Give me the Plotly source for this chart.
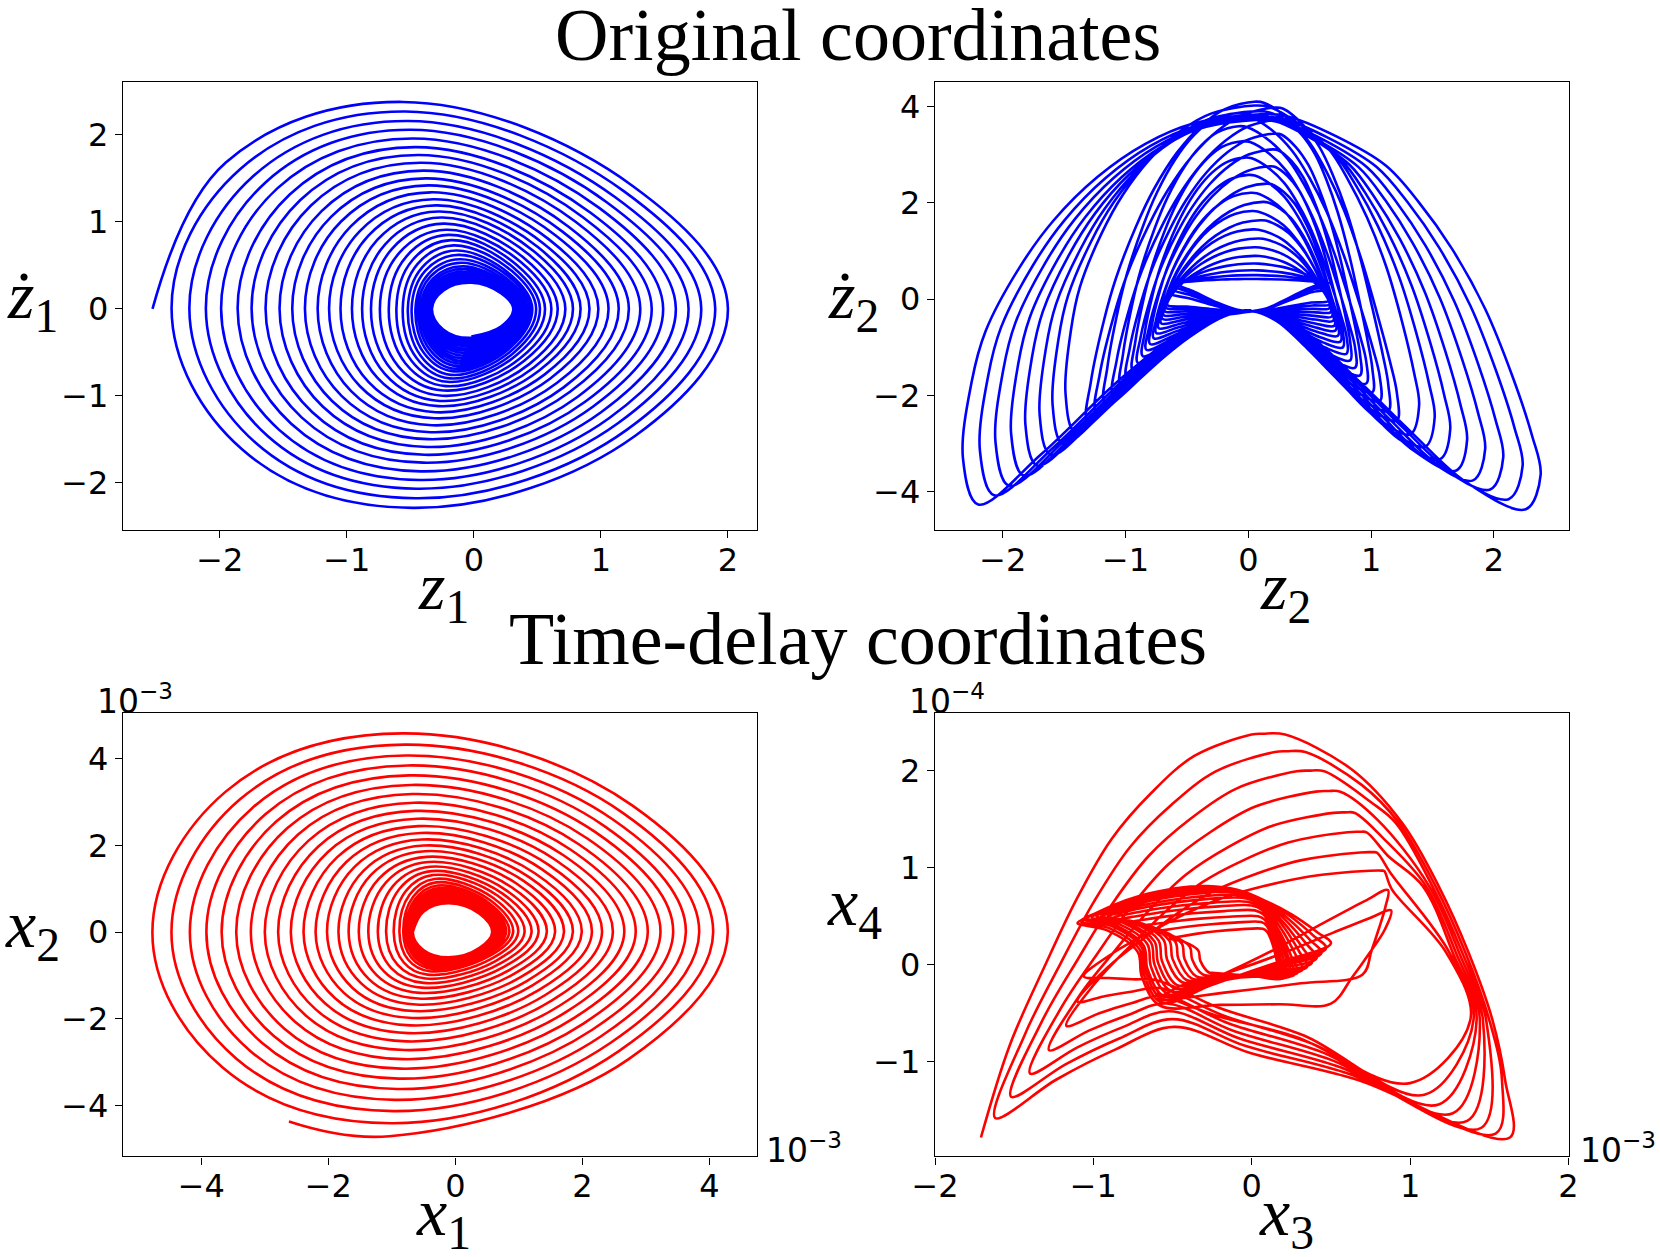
import plotly.graph_objects as go

W, H = 1660, 1257

# ---------------- Top-left: z1 vs dz1 (spiral, clockwise, starts at left) -----------
tl_left = [-2.53, -2.38, -2.24, -2.11, -1.99, -1.86, -1.75, -1.64, -1.53, -1.43, -1.33, -1.23,
           -1.14, -1.05, -0.96, -0.88, -0.81, -0.74, -0.67, -0.61, -0.56, -0.52, -0.49, -0.46,
           -0.44, -0.42, -0.405, -0.39, -0.38, -0.37, -0.362, -0.355, -0.35, -0.345, -0.34,
           -0.336, -0.333, -0.33]
tl_top = [2.38, 2.27, 2.16, 2.06, 1.96, 1.86, 1.77, 1.68, 1.59, 1.50, 1.42, 1.34, 1.26, 1.19,
          1.12, 1.05, 0.98, 0.91, 0.85, 0.79, 0.73, 0.67, 0.62, 0.57, 0.53, 0.49, 0.46, 0.43,
          0.41, 0.39, 0.375, 0.36, 0.35, 0.34, 0.33, 0.32, 0.31, 0.30]
tl_top_x = [-0.56, -0.54, -0.52, -0.50, -0.48, -0.46, -0.44, -0.42, -0.40, -0.38, -0.36, -0.34,
            -0.32, -0.30, -0.28, -0.26, -0.24, -0.22, -0.20, -0.18, -0.16, -0.14, -0.12, -0.11,
            -0.10, -0.09, -0.08, -0.07, -0.06, -0.05, -0.05, -0.04, -0.04, -0.03, -0.03, -0.02,
            -0.02, -0.02]
tl_right = [2.00, 1.90, 1.79, 1.69, 1.59, 1.49, 1.40, 1.31, 1.22, 1.14, 1.06, 0.98, 0.91, 0.84,
            0.78, 0.72, 0.66, 0.61, 0.56, 0.52, 0.49, 0.46, 0.44, 0.42, 0.40, 0.385, 0.37, 0.36,
            0.35, 0.343, 0.336, 0.33, 0.326, 0.322, 0.318, 0.315, 0.312, 0.31]
tl_bottom = [-2.29, -2.18, -2.07, -1.97, -1.87, -1.77, -1.68, -1.59, -1.50, -1.42, -1.34, -1.26,
             -1.19, -1.12, -1.06, -1.00, -0.94, -0.89, -0.84, -0.80, -0.76, -0.72, -0.69, -0.66,
             -0.63, -0.60, -0.57, -0.54, -0.51, -0.48, -0.46, -0.43, -0.41, -0.39, -0.37, -0.35,
             -0.335, -0.32]
tl_bottom_x = [-0.48, -0.46, -0.45, -0.43, -0.42, -0.40, -0.39, -0.37, -0.36, -0.34, -0.33, -0.31,
               -0.30, -0.28, -0.27, -0.25, -0.24, -0.22, -0.21, -0.19, -0.18, -0.16, -0.15, -0.13,
               -0.12, -0.11, -0.10, -0.09, -0.08, -0.07, -0.06, -0.05, -0.05, -0.04, -0.04, -0.03,
               -0.03, -0.02]
tl_bulge = [1.0, 0.84, 0.90, 1.0]   # UL, UR, LR, LL quadrant fullness read from outer turn

# ---------------- Bottom-left: x1 vs x2 (x1e-3), counter-clockwise, starts at bottom ------
bl_start = (-2.62, -4.37)
bl_bottom = [-4.71, -4.41, -4.13, -3.87, -3.62, -3.38, -3.15, -2.93, -2.72, -2.52, -2.33, -2.15,
             -1.98, -1.82, -1.67, -1.53, -1.40, -1.28, -1.17, -1.07, -0.98, -0.90, -0.84, -0.79,
             -0.75, -0.72, -0.69, -0.67, -0.65, -0.635, -0.62, -0.61, -0.60, -0.59, -0.585, -0.58]
bl_bottom_x = [-1.04, -1.01, -0.98, -0.95, -0.92, -0.89, -0.86, -0.83, -0.80, -0.77, -0.74, -0.71,
               -0.68, -0.65, -0.62, -0.59, -0.56, -0.53, -0.50, -0.47, -0.44, -0.41, -0.38, -0.35,
               -0.32, -0.29, -0.26, -0.24, -0.22, -0.20, -0.18, -0.16, -0.14, -0.12, -0.11, -0.10]
bl_right = [4.29, 4.06, 3.84, 3.63, 3.43, 3.23, 3.03, 2.84, 2.66, 2.48, 2.31, 2.15, 1.99, 1.85,
            1.71, 1.57, 1.44, 1.31, 1.20, 1.09, 0.99, 0.91, 0.85, 0.80, 0.76, 0.72, 0.69, 0.67,
            0.65, 0.63, 0.615, 0.605, 0.595, 0.59, 0.585, 0.58]
bl_top = [4.59, 4.33, 4.08, 3.85, 3.62, 3.40, 3.19, 2.99, 2.80, 2.62, 2.45, 2.29, 2.14, 2.00,
          1.87, 1.74, 1.62, 1.51, 1.41, 1.32, 1.23, 1.15, 1.08, 1.02, 0.97, 0.92, 0.88, 0.84,
          0.81, 0.78, 0.75, 0.73, 0.71, 0.69, 0.68, 0.67]
bl_top_x = [-0.83, -0.80, -0.78, -0.75, -0.73, -0.70, -0.68, -0.65, -0.63, -0.60, -0.58, -0.55,
            -0.53, -0.50, -0.48, -0.45, -0.43, -0.40, -0.38, -0.35, -0.33, -0.30, -0.28, -0.26,
            -0.24, -0.22, -0.20, -0.18, -0.16, -0.15, -0.14, -0.13, -0.12, -0.11, -0.10, -0.10]
bl_left = [-4.77, -4.47, -4.18, -3.92, -3.68, -3.45, -3.22, -3.00, -2.79, -2.59, -2.39, -2.20,
           -2.02, -1.84, -1.68, -1.52, -1.37, -1.22, -1.09, -0.97, -0.88, -0.82, -0.78, -0.75,
           -0.73, -0.715, -0.705, -0.695, -0.69, -0.685, -0.68, -0.677, -0.674, -0.672, -0.67,
           -0.67]
bl_bulge = [1.0, 0.90, 0.88, 1.0]   # UL, UR, LR, LL

# ---------------- Top-right: z2 vs dz2, one row per loop --------------------------------
# 8 outer loops, 20 central arches, 4 small loops forming the triangle near the origin
tr_shape = [0] * 8 + [1] * 24
tr_lt_x = [-2.20, -2.07, -1.95, -1.83, -1.72, -1.61, -1.51, -1.41,
           -1.31, -1.24, -1.17, -1.10, -1.04, -0.99, -0.94, -0.90, -0.86, -0.83,
           -0.80, -0.77, -0.75, -0.73, -0.71, -0.70, -0.69, -0.68, -0.67, -0.66,
           -0.63, -0.62, -0.61, -0.60]
tr_lt_y = [-4.26, -4.07, -3.87, -3.66, -3.45, -3.23, -3.00, -2.76,
           -2.50, -2.31, -2.13, -1.95, -1.78, -1.62, -1.47, -1.32, -1.18, -1.05,
           -0.93, -0.81, -0.70, -0.60, -0.50, -0.41, -0.33, -0.25, -0.18, -0.12,
           0.11, 0.20, 0.27, 0.32]
tr_top_x = [0.10, 0.08, 0.07, 0.06, 0.05, 0.05, 0.05, 0.05,
            0.05, 0.22, -0.10, 0.25, -0.08, 0.22, -0.05, 0.20, -0.03, 0.18,
            0.00, 0.15, 0.02, 0.12, 0.03, 0.10, 0.04, 0.08, 0.05, 0.05,
            0.04, 0.03, 0.03, 0.03]
tr_top_y = [3.84, 3.78, 3.74, 3.72, 3.74, 3.80, 3.90, 4.02,
            4.10, 3.98, 3.86, 3.73, 3.59, 3.44, 3.28, 3.11, 2.94, 2.76,
            2.58, 2.40, 2.21, 2.02, 1.83, 1.64, 1.45, 1.26, 1.08, 0.90,
            0.74, 0.60, 0.50, 0.42]
tr_rt_x = [2.26, 2.12, 1.97, 1.83, 1.69, 1.56, 1.44, 1.32,
           1.21, 1.14, 1.07, 1.01, 0.96, 0.91, 0.87, 0.83, 0.80, 0.77,
           0.75, 0.73, 0.71, 0.70, 0.69, 0.68, 0.67, 0.66, 0.66, 0.65,
           0.65, 0.65, 0.65, 0.65]
tr_rt_y = [-4.36, -4.15, -3.95, -3.76, -3.56, -3.32, -3.06, -2.80,
           -2.52, -2.32, -2.12, -1.93, -1.75, -1.58, -1.42, -1.27, -1.13, -1.00,
           -0.88, -0.76, -0.65, -0.55, -0.45, -0.36, -0.27, -0.19, -0.11, -0.04,
           0.21, 0.27, 0.31, 0.33]
tr_in_x = [0.03] * 32
tr_in_y = [-0.25] * 32
# edge profiles (normalised), read from an outer loop (0) and a central arch (1)
tr_left_prof = [
    [(1.054, 0.118), (1.023, 0.315), (0.974, 0.444), (0.854, 0.607), (0.734, 0.727),
     (0.578, 0.839), (0.408, 0.924), (0.239, 0.976)],
    [(0.980, 0.118), (0.900, 0.315), (0.830, 0.444), (0.710, 0.607), (0.600, 0.727),
     (0.465, 0.839), (0.320, 0.924), (0.180, 0.976)]]
tr_right_prof = [
    [(0.093, 0.996), (0.282, 0.945), (0.472, 0.870), (0.597, 0.777), (0.722, 0.659),
     (0.847, 0.507), (0.949, 0.338), (1.023, 0.188), (1.056, 0.087)],
    [(0.070, 0.996), (0.240, 0.945), (0.390, 0.870), (0.510, 0.777), (0.630, 0.659),
     (0.750, 0.507), (0.860, 0.338), (0.950, 0.188), (1.000, 0.087)]]
# lower edges (bottom point -> tip), read along the lower boundary
tr_lowL_prof = [(0.188, 0.052), (0.457, 0.322), (0.767, 0.736)]
tr_lowR_prof = [(0.197, 0.112), (0.392, 0.355), (0.587, 0.618), (0.780, 0.861)]

# ---------------- Bottom-right: x3 vs x4 (x1e-3, x1e-4), one row per loop -------------
br_shape = [0] * 8 + [2, 2] + [1] * 14
br_lt_x = [-1.71, -1.62, -1.52, -1.40, -1.28, -1.17, -1.10, -1.06, -0.58, -0.45,
           -1.10, -1.08, -1.06, -1.04, -1.01, -0.98, -0.95, -0.91, -0.87, -0.82, -0.76,
           -0.69, -0.61, -0.52]
br_lt_y = [-1.78, -1.58, -1.36, -1.12, -0.88, -0.63, -0.38, -0.12, -0.35, -0.22,
           0.43, 0.45, 0.47, 0.48, 0.49, 0.50, 0.50, 0.50, 0.49, 0.47, 0.44, 0.40, 0.34, 0.27]
br_top_x = [0.07, 0.22, 0.36, 0.48, 0.59, 0.68, 0.76, 0.82, 0.86, 0.88,
            -0.32, -0.28, -0.24, -0.20, -0.16, -0.12, -0.09, -0.06, -0.03, 0.00, 0.02,
            0.04, 0.06, 0.07]
br_top_y = [2.38, 2.20, 2.00, 1.79, 1.57, 1.37, 1.16, 0.97, 0.77, 0.56,
            0.80, 0.81, 0.80, 0.79, 0.77, 0.75, 0.72, 0.69, 0.65, 0.61, 0.56, 0.50, 0.44, 0.37]
br_rt_x = [1.63, 1.54, 1.45, 1.36, 1.27, 1.18, 1.09, 1.00, 0.70, 0.50,
           0.50, 0.47, 0.44, 0.41, 0.38, 0.35, 0.32, 0.29, 0.27, 0.25, 0.23, 0.21, 0.19, 0.18]
br_rt_y = [-1.78, -1.74, -1.68, -1.61, -1.53, -1.44, -1.34, -1.22, -0.10, -0.40,
           0.22, 0.17, 0.12, 0.07, 0.02, -0.02, -0.05, -0.08, -0.10, -0.11, -0.12, -0.13,
           -0.14, -0.14]
br_in_x = [-0.48, -0.49, -0.50, -0.52, -0.54, -0.56, -0.58, -0.60, -0.60, -0.60,
           -0.58, -0.57, -0.56, -0.55, -0.53, -0.51, -0.49, -0.47, -0.44, -0.41, -0.38,
           -0.35, -0.31, -0.27]
br_in_y = [-0.72, -0.64, -0.56, -0.48, -0.40, -0.32, -0.24, -0.16, -0.30, -0.36,
           -0.42, -0.39, -0.36, -0.33, -0.30, -0.27, -0.24, -0.21, -0.18, -0.16, -0.14,
           -0.12, -0.10, -0.08]
# shared descending path on the right that the big arches follow (outermost arch)
br_bundle = [(0.95, 1.46), (1.18, 0.81), (1.37, 0.12), (1.52, -0.57), (1.60, -1.19)]
br_bundle_shift = [0.0, -0.02, -0.04, -0.06, -0.08, -0.10, -0.12, -0.14]
br_left_prof = [
    [(0.898, 0.228), (0.774, 0.424), (0.661, 0.590), (0.537, 0.739), (0.395, 0.854),
     (0.243, 0.945), (0.040, 0.998)],
    [(0.90, 0.19), (0.70, 0.51), (0.50, 0.75), (0.25, 0.94)],
    [(0.75, 0.20), (0.50, 0.45), (0.28, 0.70), (0.10, 0.90)]]
br_right_prof = [
    [(0.09, 0.998), (0.359, 0.912)],
    [(0.25, 0.94), (0.50, 0.75), (0.70, 0.51), (0.90, 0.19)],
    [(0.10, 0.80), (0.35, 0.55), (0.65, 0.28)]]
br_lowL_prof = [[(0.33, 0.25), (0.66, 0.58)],
                [(0.22, 0.35), (0.27, 0.65), (0.64, 0.91)],
                [(0.40, 0.45), (0.75, 0.80)]]
br_lowR_prof = [[(0.227, 0.236), (0.55, 0.482)],
                [(0.30, 0.30), (0.65, 0.65)],
                [(0.35, 0.30), (0.70, 0.65)]]

C45 = 0.7071


def spiral_cw(left, top, top_x, right, bottom, bottom_x, bulge):
    xs, ys = [], []
    n = len(left)
    for k in range(n):
        L, T, Tx, R, B, Bx = left[k], top[k], top_x[k], right[k], bottom[k], bottom_x[k]
        xs += [L, Tx + (L - Tx) * C45, Tx, Tx + (R - Tx) * C45, R, Bx + (R - Bx) * C45, Bx]
        ys += [0, T * C45 * bulge[0], T, T * C45 * bulge[1], 0, B * C45 * bulge[2], B]
        if k + 1 < n:
            xs.append(Bx + (left[k + 1] - Bx) * C45)
            ys.append(B * C45 * bulge[3])
    return xs, ys


def spiral_ccw(start, bottom, bottom_x, right, top, top_x, left, bulge):
    xs, ys = [start[0]], [start[1]]
    n = len(bottom)
    for k in range(n):
        B, Bx, R, T, Tx, L = bottom[k], bottom_x[k], right[k], top[k], top_x[k], left[k]
        xs += [Bx, Bx + (R - Bx) * C45, R, Tx + (R - Tx) * C45, Tx, Tx + (L - Tx) * C45, L]
        ys += [B, B * C45 * bulge[2], 0, T * C45 * bulge[1], T, T * C45 * bulge[0], 0]
        if k + 1 < n:
            xs.append(bottom_x[k + 1] + (L - bottom_x[k + 1]) * C45)
            ys.append(bottom[k + 1] * C45 * bulge[3])
    return xs, ys


def tr_loops():
    xs, ys = [], []
    n = len(tr_lt_x)
    for k in range(n):
        s = tr_shape[k]
        ix, iy = tr_in_x[k], tr_in_y[k]
        LTx, LTy, RTx, RTy = tr_lt_x[k], tr_lt_y[k], tr_rt_x[k], tr_rt_y[k]
        tx, ty = tr_top_x[k], tr_top_y[k]
        xs.append(ix); ys.append(iy)
        for u, v in tr_lowL_prof:
            xs.append(ix + (LTx - ix) * u); ys.append(iy + (LTy - iy) * v)
        xs.append(LTx); ys.append(LTy)
        for a, b in tr_left_prof[s]:
            xs.append(tx + a * (LTx - tx)); ys.append(LTy + b * (ty - LTy))
        xs.append(tx); ys.append(ty)
        for a, b in tr_right_prof[s]:
            xs.append(tx + a * (RTx - tx)); ys.append(RTy + b * (ty - RTy))
        xs.append(RTx); ys.append(RTy)
        nx = tr_in_x[k + 1] if k + 1 < n else ix
        ny = tr_in_y[k + 1] if k + 1 < n else iy
        for u, v in reversed(tr_lowR_prof):
            xs.append(nx + (RTx - nx) * u); ys.append(ny + (RTy - ny) * v)
    xs.append(tr_in_x[-1]); ys.append(tr_in_y[-1])
    return xs, ys


def br_loops():
    xs, ys = [], []
    n = len(br_lt_x)
    for k in range(n):
        s = br_shape[k]
        ix, iy = br_in_x[k], br_in_y[k]
        if k > 0:
            xs.append(ix); ys.append(iy)
            for u, v in br_lowL_prof[s]:
                xs.append(ix + (br_lt_x[k] - ix) * u); ys.append(iy + (br_lt_y[k] - iy) * v)
        xs.append(br_lt_x[k]); ys.append(br_lt_y[k])
        tx, ty = br_top_x[k], br_top_y[k]
        for a, b in br_left_prof[s]:
            xs.append(tx + a * (br_lt_x[k] - tx)); ys.append(br_lt_y[k] + b * (ty - br_lt_y[k]))
        xs.append(tx); ys.append(ty)
        for a, b in br_right_prof[s]:
            xs.append(tx + a * (br_rt_x[k] - tx)); ys.append(br_rt_y[k] + b * (ty - br_rt_y[k]))
        if s == 0:
            for bx, by in br_bundle:
                if br_rt_y[k] + 0.5 < by < ty - 0.35:
                    xs.append(bx + br_bundle_shift[k]); ys.append(by)
        xs.append(br_rt_x[k]); ys.append(br_rt_y[k])
        nx = br_in_x[k + 1] if k + 1 < n else ix
        ny = br_in_y[k + 1] if k + 1 < n else iy
        for u, v in reversed(br_lowR_prof[s]):
            xs.append(nx + (br_rt_x[k] - nx) * u); ys.append(ny + (br_rt_y[k] - ny) * v)
    xs.append(br_in_x[-1]); ys.append(br_in_y[-1])
    return xs, ys


BLUE = "#0000ff"
RED = "#ff0000"
LW = 2.6

fig = go.Figure()

x, y = spiral_cw(tl_left, tl_top, tl_top_x, tl_right, tl_bottom, tl_bottom_x, tl_bulge)
fig.add_trace(go.Scatter(x=x, y=y, mode="lines", xaxis="x", yaxis="y",
                         line=dict(color=BLUE, width=LW, shape="spline", smoothing=1.1)))
x, y = tr_loops()
fig.add_trace(go.Scatter(x=x, y=y, mode="lines", xaxis="x2", yaxis="y2",
                         line=dict(color=BLUE, width=LW, shape="spline", smoothing=1.0)))
x, y = spiral_ccw(bl_start, bl_bottom, bl_bottom_x, bl_right, bl_top, bl_top_x, bl_left, bl_bulge)
fig.add_trace(go.Scatter(x=x, y=y, mode="lines", xaxis="x3", yaxis="y3",
                         line=dict(color=RED, width=LW, shape="spline", smoothing=1.1)))
x, y = br_loops()
fig.add_trace(go.Scatter(x=x, y=y, mode="lines", xaxis="x4", yaxis="y4",
                         line=dict(color=RED, width=LW, shape="spline", smoothing=1.0)))


def px(v):
    return v / W


def py(v):
    return 1 - v / H


TICKFONT = dict(family="DejaVu Sans", size=32, color="black")


def ax(domain, rng, vals, anchor, standoff):
    return dict(domain=domain, range=rng, anchor=anchor, showgrid=False, zeroline=False,
                automargin=False, showline=True, mirror=True, linecolor="black", linewidth=1.3,
                ticks="outside", ticklen=7, tickwidth=1.3, tickcolor="black",
                ticklabelstandoff=standoff,
                tickvals=vals, ticktext=[("\u2212" + str(abs(v))) if v < 0 else str(v) for v in vals],
                tickfont=TICKFONT, fixedrange=True)


XL = [px(123), px(757)]
XR = [px(935), px(1568.5)]
YT = [py(530), py(81.6)]
YB = [py(1156.4), py(713.2)]

fig.update_layout(
    width=W, height=H, margin=dict(l=0, r=0, t=0, b=0, pad=0), autosize=False,
    paper_bgcolor="white", plot_bgcolor="white", showlegend=False,
    xaxis=ax(XL, [-2.7625, 2.229], [-2, -1, 0, 1, 2], "y", -6),
    yaxis=ax(YT, [-2.545, 2.614], [-2, -1, 0, 1, 2], "x", 0),
    xaxis2=ax(XR, [-2.552, 2.608], [-2, -1, 0, 1, 2], "y2", -6),
    yaxis2=ax(YT, [-4.79, 4.517], [-4, -2, 0, 2, 4], "x2", 0),
    xaxis3=ax(XL, [-5.233, 4.75], [-4, -2, 0, 2, 4], "y3", -6),
    yaxis3=ax(YB, [-5.176, 5.056], [-4, -2, 0, 2, 4], "x3", 0),
    xaxis4=ax(XR, [-2.0, 2.0], [-2, -1, 0, 1, 2], "y4", -6),
    yaxis4=ax(YB, [-1.975, 2.592], [-1, 0, 1, 2], "x4", 0),
)

SERIF = "Liberation Serif"
ann = []


def add_text(text, x, y, size, family=SERIF, xanchor="center"):
    ann.append(dict(text=text, x=px(x), y=py(y), xref="paper", yref="paper", showarrow=False,
                    xanchor=xanchor, yanchor="middle", font=dict(family=family, size=size, color="black")))


add_text("Original coordinates", 858, 35, 74)
add_text("Time-delay coordinates", 858, 639, 74)
LBL = 68
add_text("<i>z</i><sub>1</sub>", 443, 590, LBL)
add_text("<i>z</i><sub>2</sub>", 1285, 590, LBL)
add_text("<i>x</i><sub>1</sub>", 443, 1216, LBL)
add_text("<i>x</i><sub>3</sub>", 1286, 1216, LBL)
add_text("<i>\u017c</i><sub>1</sub>", 32, 300, LBL)
add_text("<i>\u017c</i><sub>2</sub>", 853, 300, LBL)
add_text("<i>x</i><sub>2</sub>", 32, 928, LBL)
add_text("<i>x</i><sub>4</sub>", 854, 906, LBL)
add_text("10<sup>\u22123</sup>", 95, 699, 33, family="DejaVu Sans", xanchor="left")
add_text("10<sup>\u22124</sup>", 907, 699, 33, family="DejaVu Sans", xanchor="left")
add_text("10<sup>\u22123</sup>", 764, 1148, 33, family="DejaVu Sans", xanchor="left")
add_text("10<sup>\u22123</sup>", 1658, 1148, 33, family="DejaVu Sans", xanchor="right")
fig.update_layout(annotations=ann)

fig.write_html("out.html", config={"displayModeBar": False},
               post_script="document.body.style.margin='0';document.body.style.overflow='hidden';")
